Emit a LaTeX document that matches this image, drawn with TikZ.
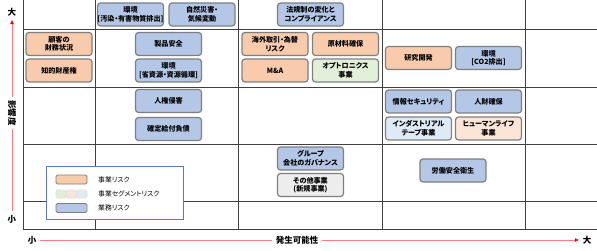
\documentclass[tikz,border=0pt]{standalone}
\usepackage{fontspec}
\setmainfont{Noto Sans CJK JP}[RawFeature=+palt]
\usetikzlibrary{arrows.meta}
\definecolor{borange}{HTML}{F8CBAD}
\definecolor{bblue}{HTML}{B4C7E7}
\definecolor{sgreen}{HTML}{E2F0D9}
\definecolor{sorange}{HTML}{FBE5D6}
\definecolor{sblue}{HTML}{DEEBF7}
\definecolor{bgray}{HTML}{EDEDED}
\definecolor{bordc}{HTML}{7F7F7F}
\definecolor{gridc}{HTML}{404040}
\definecolor{legc}{HTML}{5B7DB1}
\definecolor{axc}{HTML}{FF7C80}
\begin{document}
\begin{tikzpicture}[x=1pt,y=-1pt,
  riskbox/.style={draw=bordc,line width=1.2pt,rounded corners=3pt,minimum width=66pt,minimum height=23pt,inner sep=0pt,align=center,font=\fontsize{7.1}{8.6}\selectfont\bfseries},
  opbox/.style={riskbox,fill=borange},
  wkbox/.style={riskbox,fill=bblue},
  gridline/.style={draw=gridc,line width=0.8pt},
  axl/.style={draw=axc,line width=0.8pt},
  axlab/.style={font=\fontsize{8.5}{9}\selectfont\bfseries,inner sep=1pt,outer sep=3pt},
  swatch/.style={draw=bordc,line width=0.9pt,rounded corners=1.5pt,minimum width=31pt,minimum height=9pt,inner sep=0pt},
  smallsw/.style={draw=black!12,line width=0.9pt,rounded corners=1.5pt,minimum width=10pt,minimum height=8pt,inner sep=0pt},
  legtext/.style={anchor=west,font=\fontsize{6.8}{7}\selectfont,inner sep=0pt}
]
\useasboundingbox (0,0) rectangle (597,251);
% grid
\foreach \x in {23,95,238,382,525} \draw[gridline] (\x,0) -- (\x,229);
\foreach \y in {29,87,144,201,229} \draw[gridline] (23,\y) -- (597,\y);
% boxes
\node[wkbox] (envA) at (130.5,14.5) {環境\\{}[汚染・有害物質排出]};
\node[wkbox] (disaster) at (202,14.5) {自然災害・\\気候変動};
\node[wkbox] (law) at (310.5,14.5) {法規制の変化と\\コンプライアンス};
\node[opbox] (customer) at (59,44) {顧客の\\財務状況};
\node[opbox] (ip) at (59,70.5) {知的財産権};
\node[wkbox] (product) at (168.5,44) {製品安全};
\node[wkbox] (envB) at (168.5,70.5) {環境\\{}[省資源・資源循環]};
\node[opbox] (overseas) at (275,44) {海外取引・為替\\リスク};
\node[opbox] (ma) at (275,70.5) {M\&A};
\node[opbox] (material) at (345.5,44) {原材料確保};
\node[riskbox,fill=sgreen] (opto) at (345.5,70.5) {オプトロニクス\\事業};
\node[opbox] (rd) at (418.5,58) {研究開発};
\node[wkbox] (envC) at (488.5,58) {環境\\{}[CO2排出]};
\node[wkbox] (humanrights) at (168.5,101) {人権侵害};
\node[wkbox] (dbo) at (168.5,129) {確定給付負債};
\node[wkbox] (infosec) at (418.5,101.5) {情報セキュリティ};
\node[wkbox] (hr) at (488.5,101.5) {人財確保};
\node[riskbox,fill=sblue] (tape) at (418.5,128.5) {インダストリアル\\テープ事業};
\node[riskbox,fill=sorange] (human) at (488.5,128.5) {ヒューマンライフ\\事業};
\node[wkbox] (group) at (310.5,158.5) {グループ\\会社のガバナンス};
\node[riskbox,fill=bgray] (other) at (310.5,185) {その他事業\\(新規事業)};
\node[wkbox] (safety) at (453,170.5) {労働安全衛生};
% legend
\node[draw=legc,line width=0.8pt,fill=white,minimum width=137pt,minimum height=53pt,inner sep=0pt] (legend) at (114.5,192.5) {};
\node[swatch,fill=borange] (sw1) at (71.5,179.5) {};
\node[smallsw,fill=sgreen] (sw2a) at (61,194) {};
\node[smallsw,fill=sorange] (sw2b) at (71.5,194) {};
\node[smallsw,fill=sblue] (sw2c) at (82,194) {};
\node[swatch,fill=bblue] (sw3) at (71.5,208) {};
\node[legtext] (lt1) at (98,179.5) {事業リスク};
\node[legtext] (lt2) at (98,194) {事業セグメントリスク};
\node[legtext] (lt3) at (98,208) {業務リスク};
% axes
\node[axlab] (ybig) at (12,12) {大};
\node[axlab] (ysmall) at (12,219) {小};
\node[axlab,rotate=-90,outer sep=2pt] (ylab) at (12,113) {影響度};
\draw[axl] (ysmall) -- (ylab);
\draw[axl,-{Triangle[length=4pt,width=3.5pt,color=red]}] (ylab) -- (ybig);
\node[axlab] (xsmall) at (32,240) {小};
\node[axlab] (xlab) at (297,240) {発生可能性};
\node[axlab] (xbig) at (587,240) {大};
\draw[axl] (xsmall) -- (xlab);
\draw[axl,-{Triangle[length=4pt,width=3.5pt,color=red]}] (xlab) -- (xbig);
\end{tikzpicture}
\end{document}
